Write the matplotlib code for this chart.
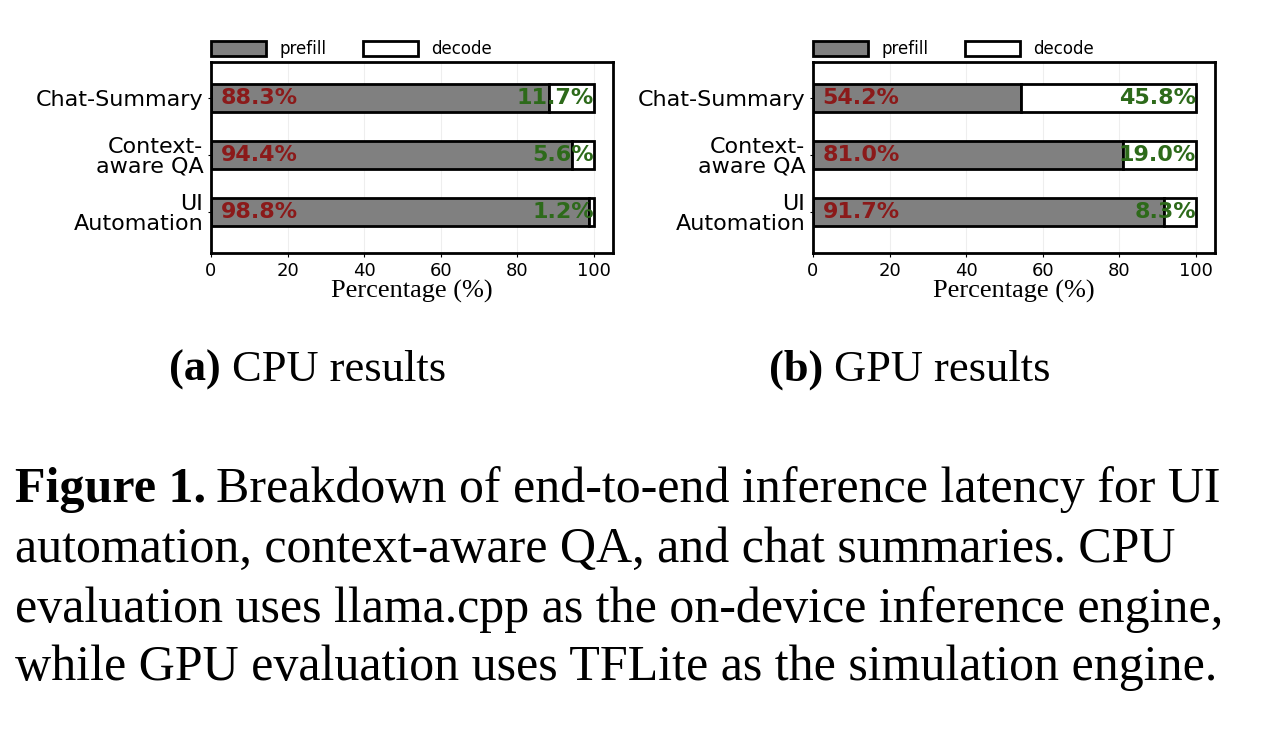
import matplotlib
matplotlib.use("Agg")
import matplotlib.pyplot as plt

tasks = ["Chat-Summary", "Context-\naware QA", "UI\nAutomation"]
cpu_prefill = [88.3, 94.4, 98.8]
cpu_decode = [11.7, 5.6, 1.2]
gpu_prefill = [54.2, 81.0, 91.7]
gpu_decode = [45.8, 19.0, 8.3]

caption_head = "Figure 1."
caption = [
    "Breakdown of end-to-end inference latency for UI",
    "automation, context-aware QA, and chat summaries. CPU",
    "evaluation uses llama.cpp as the on-device inference engine,",
    "while GPU evaluation uses TFLite as the simulation engine.",
]

fig = plt.figure(figsize=(12.68, 7.36), dpi=100)
W, H = 1268, 736
SERIF = "Liberation Serif"


def panel(x0, prefill, decode):
    ax = fig.add_axes([x0 / W, 1 - 253 / H, 402 / W, 191 / H])
    y = range(len(tasks))
    ax.barh(y, prefill, height=0.5, color="#808080", edgecolor="black", linewidth=2, label="prefill")
    ax.barh(y, decode, left=prefill, height=0.5, color="white", edgecolor="black", linewidth=2, label="decode")
    for i in y:
        ax.text(2.5, i, f"{prefill[i]:.1f}%", color="#8b1a1a", fontsize=16, fontweight="bold",
                va="center", ha="left")
        ax.text(100, i, f"{decode[i]:.1f}%", color="#2d6a1a", fontsize=16, fontweight="bold",
                va="center", ha="right")
    ax.set_xlim(0, 105)
    ax.set_ylim(2.72, -0.63)
    ax.set_yticks(list(y))
    ax.set_yticklabels(tasks, fontsize=16, linespacing=1.0)
    ax.set_xticks([0, 20, 40, 60, 80, 100])
    ax.tick_params(axis="x", labelsize=13, length=3)
    ax.tick_params(axis="y", length=2)
    ax.grid(axis="x", color="#eeeeee", linewidth=0.8)
    ax.set_axisbelow(True)
    for s in ax.spines.values():
        s.set_linewidth(2)
    ax.set_xlabel("Percentage (%)", family=SERIF, fontsize=19, labelpad=0)
    ax.legend(loc="lower left", bbox_to_anchor=(0, 1.02), ncol=2, frameon=False, fontsize=12,
              handlelength=3.3, handleheight=1.0, handletextpad=0.8, columnspacing=2.2,
              borderaxespad=0, borderpad=0)
    return ax


panel(211, cpu_prefill, cpu_decode)
panel(813, gpu_prefill, gpu_decode)

for xc, lab, txt in [(322, "(a)", "CPU results"), (924, "(b)", "GPU results")]:
    fig.text((xc - 90) / W, 1 - 370 / H, lab + " ", family=SERIF, fontsize=32,
             fontweight="bold", ha="right", va="center")
    fig.text((xc - 90) / W, 1 - 370 / H, txt, family=SERIF, fontsize=32, ha="left", va="center")

ys = [490, 550, 610, 668]
head = fig.text(15 / W, 1 - ys[0] / H, caption_head, family=SERIF, fontsize=36,
                fontweight="bold", va="center", ha="left")
fig.canvas.draw()
bb = head.get_window_extent()
fig.text((bb.x1 + 10) / W, 1 - ys[0] / H, caption[0], family=SERIF, fontsize=36, va="center", ha="left")
for line, yy in zip(caption[1:], ys[1:]):
    fig.text(15 / W, 1 - yy / H, line, family=SERIF, fontsize=36, va="center", ha="left")

fig.savefig("out.png", dpi=100)
